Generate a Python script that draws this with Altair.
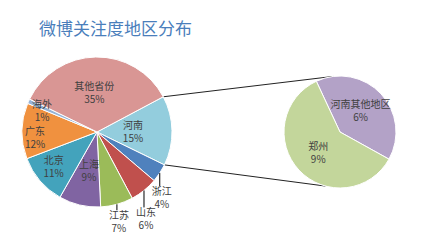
import math
import altair as alt
import pandas as pd

# ---------------- data ----------------
title_text = "微博关注度地区分布"

main_regions = ["河南", "浙江", "山东", "江苏", "上海", "北京", "广东", "海外", "其他省份"]
main_pct = [15, 4, 6, 7, 9, 11, 12, 1, 35]

sub_regions = ["河南其他地区", "郑州"]
sub_pct = [6, 9]

# ---------------- styles / layout ----------------
main_colors = ["#93CDDD", "#4F81BD", "#C0504D", "#9BBB59", "#8064A2",
               "#43A3BC", "#F0913F", "#95B3D7", "#D99694"]
sub_colors = ["#B3A2C7", "#C3D69B"]

MAIN_CX, MAIN_CY, MAIN_R, MAIN_START = 97, 132, 75, 62.0
SUB_CX, SUB_CY, SUB_R, SUB_START = 340, 132, 56, -25.0
SUB_LINK_ANGLES = [-7.0, 195.0]

# inside labels: (fraction of radius, angle tweak in degrees)
inside_pos = {"河南": (0.48, 1), "其他省份": (0.51, -3), "海外": (0.78, -4),
              "广东": (0.83, -7), "北京": (0.75, 1), "上海": (0.54, -2),
              "河南其他地区": (0.52, -2), "郑州": (0.54, -1)}
# outside labels: leader length (px)
leader_len = {"浙江": 13, "山东": 17, "江苏": 6}

FONT = "Noto Sans CJK SC"
LABEL_COLOR = "#404040"


def pie_frame(names, vals, cx, cy, r, start_deg):
    total = float(sum(vals))
    rows = []
    acc = start_deg
    for n, v in zip(names, vals):
        a0 = acc
        a1 = acc + v / total * 360.0
        acc = a1
        mid_deg = (a0 + a1) / 2
        mid = math.radians(mid_deg)
        row = dict(region=n, pct=f"{v}%",
                   t0=math.radians(a0), t1=math.radians(a1), cx=cx, cy=cy)
        if n in leader_len:
            ex = cx + r * math.sin(mid)
            ey = cy - r * math.cos(mid)
            row.update(lx=ex, ly=ey, ly2=ey + leader_len[n],
                       tx=ex + 2, ty=ey + leader_len[n] + 12.5)
        else:
            frac, tweak = inside_pos[n]
            a = math.radians(mid_deg + tweak)
            f = frac * r
            row.update(tx=cx + f * math.sin(a), ty=cy - f * math.cos(a))
        rows.append(row)
    return pd.DataFrame(rows)


main_df = pie_frame(main_regions, main_pct, MAIN_CX, MAIN_CY, MAIN_R, MAIN_START)
sub_df = pie_frame(sub_regions, sub_pct, SUB_CX, SUB_CY, SUB_R, SUB_START)

# connector lines from the 河南 slice edges to the sub pie
henan_a0 = MAIN_START
henan_a1 = MAIN_START + main_pct[0] / sum(main_pct) * 360.0
link_rows = []
for am, asub in zip([henan_a0, henan_a1], SUB_LINK_ANGLES):
    link_rows.append(dict(
        x=MAIN_CX + MAIN_R * math.sin(math.radians(am)),
        y=MAIN_CY - MAIN_R * math.cos(math.radians(am)),
        x2=SUB_CX + SUB_R * math.sin(math.radians(asub)),
        y2=SUB_CY - SUB_R * math.cos(math.radians(asub)),
    ))
link_df = pd.DataFrame(link_rows)

# ---------------- chart ----------------
W, H, PAD_TOP = 414, 188, 40
xs = alt.Scale(domain=[8, 8 + W], range=[0, W], zero=False, nice=False)
ys = alt.Scale(domain=[8 + PAD_TOP, 8 + PAD_TOP + H], range=[0, H], zero=False, nice=False)

all_names = main_regions + sub_regions
all_colors = main_colors + sub_colors
color = alt.Color("region:N", scale=alt.Scale(domain=all_names, range=all_colors), legend=None)


def arcs(df, r):
    return alt.Chart(df).mark_arc(radius=r, stroke="white", strokeWidth=1).encode(
        x=alt.X("cx:Q", scale=xs, axis=None),
        y=alt.Y("cy:Q", scale=ys, axis=None),
        theta=alt.Theta("t0:Q", scale=None),
        theta2=alt.Theta2("t1:Q"),
        color=color,
    )


def labels(df):
    base = alt.Chart(df)
    enc = dict(x=alt.X("tx:Q", scale=xs, axis=None), y=alt.Y("ty:Q", scale=ys, axis=None))
    name = base.mark_text(font=FONT, fontSize=10, color=LABEL_COLOR, dy=-6.5).encode(
        text="region:N", **enc)
    pct = base.mark_text(font=FONT, fontSize=10, color=LABEL_COLOR, dy=6.5).encode(
        text="pct:N", **enc)
    return name + pct


leaders = alt.Chart(main_df.dropna(subset=["lx"])).mark_rule(color="#000000", strokeWidth=1).encode(
    x=alt.X("lx:Q", scale=xs, axis=None),
    y=alt.Y("ly:Q", scale=ys, axis=None),
    y2="ly2:Q",
)

links = alt.Chart(link_df).mark_rule(color="#222222", strokeWidth=1).encode(
    x=alt.X("x:Q", scale=xs, axis=None),
    y=alt.Y("y:Q", scale=ys, axis=None),
    x2="x2:Q",
    y2="y2:Q",
)

chart = alt.layer(
    links,
    arcs(main_df, MAIN_R),
    arcs(sub_df, SUB_R),
    leaders,
    labels(main_df),
    labels(sub_df),
).properties(
    width=W,
    height=H,
    padding={"left": 0, "right": 0, "top": PAD_TOP, "bottom": 0},
    autosize=alt.AutoSizeParams(type="none"),
    title=alt.TitleParams(text=title_text, anchor="start", frame="group", dx=31, offset=9,
                          font=FONT, fontSize=17, fontWeight="normal", color="#4A7EBB"),
).configure_view(strokeWidth=0)

chart.save("out.html", embed_options={"renderer": "svg", "actions": False})
